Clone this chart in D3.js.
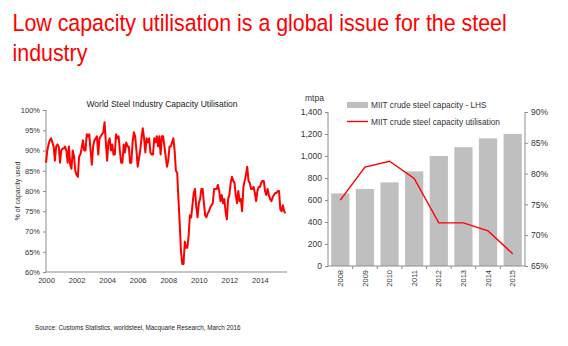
<!DOCTYPE html>
<html>
<head>
<meta charset="utf-8">
<script src="https://cdn.jsdelivr.net/npm/d3@7"></script>
<style>
  body { margin: 0; background: #fff; }
  text { font-family: "Liberation Sans", Arial, sans-serif; }
  .axis path, .axis line { stroke: #8c8c8c; }
  .axis text { fill: #333; }
</style>
</head>
<body>
<div id="chart"></div>
<script>
// World steel capacity utilisation, monthly from Jan 2000 (%)
const worldStart = 2000;
const worldUtil = [
  87, 90, 91.5, 92.5, 93, 92, 91, 87.5, 91, 91.5, 91, 87,        // 2000
  90, 90.5, 90.5, 91, 90, 87, 91, 86.5, 85.5, 90, 88.5, 85,      // 2001
  84, 83.5, 88.5, 89, 90.5, 92.5, 90, 90, 94, 93.5, 94, 90,      // 2002
  86.5, 91, 92.5, 93, 93.5, 89, 93, 93.5, 94, 94.5, 97, 92,      // 2003
  87.5, 92, 93, 90, 91.5, 89, 89, 94, 93, 93.5, 90, 87,          // 2004
  87, 91.5, 89.5, 92, 91, 91, 87, 87, 92, 94.5, 93.5, 90,        // 2005
  86, 88, 90, 93, 95.5, 93, 89.5, 93, 92, 93, 89.5, 89,          // 2006
  89, 93, 92, 93.5, 91, 93.5, 89, 93.5, 93.5, 91, 88.5, 86,      // 2007
  87.5, 91, 91, 92, 93, 90, 85, 84.5, 78, 72, 65, 62,            // 2008
  62, 67.5, 66, 66, 69, 74, 73.5, 76.5, 79.5, 80.5, 76, 73.5,    // 2009
  77, 78, 80.5, 80.5, 77, 74, 73.5, 74.5, 75, 76, 76.5, 77,      // 2010
  80.5, 80.5, 80.5, 81.5, 80, 77.5, 79, 77, 78, 75, 73, 78,      // 2011
  79, 82, 83.5, 82.5, 82, 79, 77, 80, 77.5, 78, 75, 81,          // 2012
  82.5, 84, 86, 82.5, 82, 80.5, 80.5, 81, 79.5, 77.5, 80, 81,    // 2013
  81, 82, 82.5, 82.5, 80, 79, 80.5, 79, 78, 77.5, 78.5, 79,      // 2014
  79.5, 79.5, 80, 80, 75.5, 75, 76.5, 75, 74.5                   // 2015
];
const worldYTicks = [60, 65, 70, 75, 80, 85, 90, 95, 100];
const worldXTicks = [2000, 2002, 2004, 2006, 2008, 2010, 2012, 2014];

// MIIT China crude steel
const miitYears = ["2008", "2009", "2010", "2011", "2012", "2013", "2014", "2015"];
const miitCapacity = [660, 700, 760, 860, 1000, 1080, 1160, 1200];   // mtpa
const miitUtil = [75.7, 81.05, 82, 79.2, 72, 72, 70.7, 67];          // %
const capTicks = [0, 200, 400, 600, 800, 1000, 1200, 1400];
const utilTicks = [65, 70, 75, 80, 85, 90];

const W = 568, H = 346;
const red = "#ff0000";
const barGrey = "#bfbfbf";

const svg = d3.select("#chart")
  .append("svg")
  .attr("width", W)
  .attr("height", H);

// Slide title (source slide is squeezed horizontally)
const title = svg.append("g").attr("transform", "translate(12.5,0) scale(0.91,1)");
title.append("text")
  .attr("x", 0)
  .attr("y", 31)
  .attr("fill", red)
  .attr("font-size", 23.5)
  .text("Low capacity utilisation is a global issue for the steel");
title.append("text")
  .attr("x", 0)
  .attr("y", 61)
  .attr("fill", red)
  .attr("font-size", 23.5)
  .text("industry");

// ---------- Left chart ----------
const lx = d3.scaleLinear().domain([2000, 2015.77]).range([46, 287]);
const ly = d3.scaleLinear().domain([60, 100]).range([272, 110]);

svg.append("text")
  .attr("x", 162)
  .attr("y", 107)
  .attr("text-anchor", "middle")
  .attr("font-size", 8.5)
  .attr("fill", "#222")
  .text("World Steel Industry Capacity  Utilisation");

svg.append("g")
  .attr("class", "axis")
  .attr("transform", `translate(${lx.range()[0]},0)`)
  .call(d3.axisLeft(ly).tickValues(worldYTicks).tickSize(3).tickPadding(3)
    .tickFormat(d => d + "%"))
  .call(g => g.selectAll("text").attr("font-size", 7.5))
  .call(g => g.select(".domain").attr("d", `M0,${ly.range()[0]}V${ly.range()[1]}`));

svg.append("g")
  .attr("class", "axis")
  .attr("transform", `translate(0,${ly.range()[0]})`)
  .call(d3.axisBottom(lx).tickValues(worldXTicks).tickSize(0).tickPadding(6)
    .tickFormat(d3.format("d")))
  .call(g => g.selectAll("text").attr("font-size", 7.5))
  .call(g => g.select(".domain").attr("d", `M${lx.range()[0]},0H${lx.range()[1]}`));

svg.append("text")
  .attr("transform", `translate(20,${(ly(60) + ly(100)) / 2}) rotate(-90)`)
  .attr("text-anchor", "middle")
  .attr("font-size", 7)
  .attr("fill", "#333")
  .text("% of capacity used");

svg.append("path")
  .datum(worldUtil)
  .attr("fill", "none")
  .attr("stroke", red)
  .attr("stroke-width", 2)
  .attr("stroke-linejoin", "round")
  .attr("d", d3.line()
    .x((d, i) => lx(worldStart + i / 12))
    .y(d => ly(d)));

// ---------- Right chart ----------
const rx = d3.scaleBand().domain(miitYears).range([328, 525]).paddingInner(0.26).paddingOuter(0.13);
const ryCap = d3.scaleLinear().domain([0, 1400]).range([266, 112]);
const ryUtil = d3.scaleLinear().domain([65, 90]).range([266, 112]);

svg.append("g")
  .selectAll("rect")
  .data(miitCapacity)
  .join("rect")
  .attr("x", (d, i) => rx(miitYears[i]))
  .attr("y", d => ryCap(d))
  .attr("width", rx.bandwidth())
  .attr("height", d => ryCap(0) - ryCap(d))
  .attr("fill", barGrey);

svg.append("path")
  .datum(miitUtil)
  .attr("fill", "none")
  .attr("stroke", red)
  .attr("stroke-width", 1.4)
  .attr("d", d3.line()
    .x((d, i) => rx(miitYears[i]) + rx.bandwidth() / 2)
    .y(d => ryUtil(d)));

svg.append("g")
  .attr("class", "axis")
  .attr("transform", `translate(${rx.range()[0]},0)`)
  .call(d3.axisLeft(ryCap).tickValues(capTicks).tickSize(3).tickPadding(3)
    .tickFormat(d3.format(",")))
  .call(g => g.selectAll("text").attr("font-size", 8.5))
  .call(g => g.select(".domain").attr("d", `M0,${ryCap.range()[0]}V${ryCap.range()[1]}`));

svg.append("g")
  .attr("class", "axis")
  .attr("transform", `translate(${rx.range()[1]},0)`)
  .call(d3.axisRight(ryUtil).tickValues(utilTicks).tickSize(3).tickPadding(3)
    .tickFormat(d => d + "%"))
  .call(g => g.selectAll("text").attr("font-size", 8.5))
  .call(g => g.select(".domain").attr("d", `M0,${ryUtil.range()[0]}V${ryUtil.range()[1]}`));

const xAxisR = svg.append("g")
  .attr("class", "axis")
  .attr("transform", `translate(0,${ryCap(0)})`)
  .call(d3.axisBottom(rx).tickSize(0).tickPadding(4))
  .call(g => g.select(".domain").attr("d", `M${rx.range()[0]},0H${rx.range()[1]}`));
xAxisR.selectAll("text")
  .attr("font-size", 7.5)
  .attr("transform", "rotate(-90)")
  .attr("text-anchor", "end")
  .attr("dy", "0.35em")
  .attr("x", -4)
  .attr("y", 0);
// small ticks between categories
xAxisR.selectAll("line.sep")
  .data(miitYears.slice(1))
  .join("line")
  .attr("class", "sep")
  .attr("x1", d => rx(d) - rx.step() * rx.paddingInner() / 2)
  .attr("x2", d => rx(d) - rx.step() * rx.paddingInner() / 2)
  .attr("y1", 0)
  .attr("y2", 3);

svg.append("text")
  .attr("x", 305)
  .attr("y", 101)
  .attr("font-size", 8.5)
  .attr("fill", "#333")
  .text("mtpa");

// legend
const legend = svg.append("g").attr("transform", "translate(347,105)");
legend.append("rect")
  .attr("x", 0).attr("y", -3)
  .attr("width", 21).attr("height", 6)
  .attr("fill", barGrey);
legend.append("text")
  .attr("x", 24).attr("y", 3)
  .attr("font-size", 8.3)
  .attr("fill", "#333")
  .text("MIIT crude steel capacity - LHS");
legend.append("line")
  .attr("x1", 0).attr("x2", 21)
  .attr("y1", 16.5).attr("y2", 16.5)
  .attr("stroke", red)
  .attr("stroke-width", 1.4);
legend.append("text")
  .attr("x", 24).attr("y", 19.5)
  .attr("font-size", 8.3)
  .attr("fill", "#333")
  .text("MIIT crude steel capacity utilisation");

// source
svg.append("text")
  .attr("x", 35)
  .attr("y", 330)
  .attr("font-size", 6.3)
  .attr("fill", "#222")
  .text("Source: Customs Statistics, worldsteel, Macquarie Research, March 2016");
</script>
</body>
</html>
